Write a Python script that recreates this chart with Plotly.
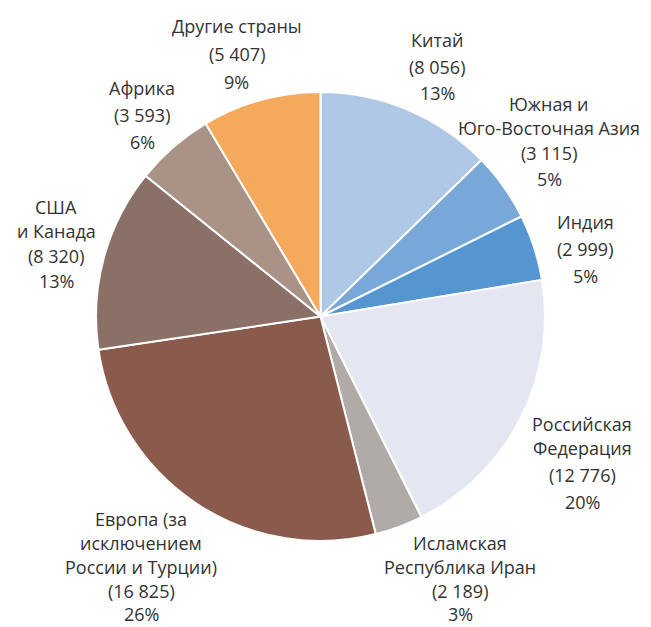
import plotly.graph_objects as go

W, H = 651, 627

# Data
regions = [
    ["Китай"],
    ["Южная и", "Юго-Восточная Азия"],
    ["Индия"],
    ["Российская", "Федерация"],
    ["Исламская", "Республика Иран"],
    ["Европа (за", "исключением", "России и Турции)"],
    ["США", "и Канада"],
    ["Африка"],
    ["Другие страны"],
]
values = [8056, 3115, 2999, 12776, 2189, 16825, 8320, 3593, 5407]
percents = [13, 5, 5, 20, 3, 26, 13, 6, 9]
colors = ["#aec8e5", "#79a7d7", "#5596d0", "#e4e7f1", "#b1aba7",
          "#8a5a4c", "#8b7068", "#a99387", "#f5a95c"]

# label layout (block centre x, line centre ys) in pixels
label_x = [437, 549, 585, 582, 460, 141, 56, 142, 237]
label_ys = [
    [40, 67, 93],
    [104, 128, 153, 179],
    [222, 249, 276],
    [424, 448, 475, 502],
    [543, 567, 591, 614],
    [519, 543, 567, 591, 614],
    [207, 231, 256, 281],
    [88, 115, 142],
    [26, 54, 82],
]

cx, cy, r = 320.5, 316.5, 224.5

fig = go.Figure(go.Pie(
    labels=[" ".join(n) for n in regions],
    values=values,
    sort=False,
    direction="clockwise",
    rotation=0,
    textinfo="none",
    hoverinfo="label+value+percent",
    marker=dict(colors=colors, line=dict(color="white", width=2)),
    domain=dict(x=[(cx - r) / W, (cx + r) / W],
                y=[(H - cy - r) / H, (H - cy + r) / H]),
    showlegend=False,
))

annotations = []
for name, v, p, x, ys in zip(regions, values, percents, label_x, label_ys):
    lines = list(name) + ["(" + f"{v:,}".replace(",", " ") + ")", f"{p}%"]
    for line, y in zip(lines, ys):
        annotations.append(dict(
            text=line, x=x / W, y=1 - y / H, xref="paper", yref="paper",
            xanchor="center", yanchor="middle", showarrow=False,
            font=dict(size=18, color="#333333", family="Open Sans"),
        ))

fig.update_layout(
    width=W, height=H,
    margin=dict(l=0, r=0, t=0, b=0),
    paper_bgcolor="white",
    plot_bgcolor="white",
    annotations=annotations,
)

fig.write_html("out.html")
